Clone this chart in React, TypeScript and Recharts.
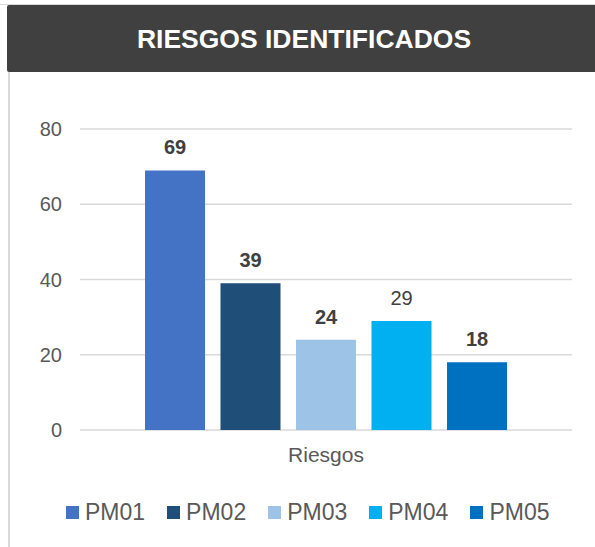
import { BarChart, Bar, XAxis, YAxis, CartesianGrid, Legend } from "recharts";

const categories = ["Riesgos"];
const seriesNames = ["PM01", "PM02", "PM03", "PM04", "PM05"];
const seriesValues = [69, 39, 24, 29, 18];
const seriesColors = ["#4472C4", "#1F4E79", "#9DC3E6", "#00B0F0", "#0070C0"];
const labelBold = [true, true, true, false, true];
const yTicks = [0, 20, 40, 60, 80];

const data = categories.map((name) => {
  const row: Record<string, string | number> = { name };
  seriesNames.forEach((s, i) => {
    row[s] = seriesValues[i];
  });
  return row;
});

const font = "'Liberation Sans', Arial, sans-serif";

function LegendContent() {
  return (
    <div style={{ display: "flex", alignItems: "center", height: 30, fontFamily: font }}>
      {seriesNames.map((s, i) => (
        <div key={s} style={{ display: "flex", alignItems: "center", marginRight: 22 }}>
          <span
            style={{
              width: 13,
              height: 13,
              background: seriesColors[i],
              display: "inline-block",
              marginRight: 6,
            }}
          />
          <span style={{ fontSize: 23, color: "#595959" }}>{s}</span>
        </div>
      ))}
    </div>
  );
}

export default function App() {
  return (
    <div style={{ position: "relative", width: 595, height: 547, background: "#fff", overflow: "hidden" }}>
      <style>{`body{margin:0}`}</style>
      <div style={{ position: "absolute", left: 0, top: 4, width: 595, height: 1, background: "#d9d9d9" }} />
      <div style={{ position: "absolute", left: 8, top: 72, width: 2, height: 475, background: "#d9d9d9" }} />
      <div
        style={{
          position: "absolute",
          left: 7,
          top: 5,
          width: 600,
          height: 67,
          background: "#404040",
          borderRadius: 2,
        }}
      />
      <div
        style={{
          position: "absolute",
          left: 7,
          top: 6,
          width: 594,
          height: 67,
          lineHeight: "67px",
          textAlign: "center",
          color: "#fff",
          fontFamily: font,
          fontWeight: "bold",
          fontSize: 26.5,
        }}
      >
        RIESGOS IDENTIFICADOS
      </div>
      <div style={{ position: "absolute", left: 0, top: 0 }}>
        <BarChart
          width={595}
          height={547}
          data={data}
          margin={{ top: 129, right: 23, left: 0, bottom: 20 }}
          barSize={60}
          barGap={15.5}
        >
          <CartesianGrid vertical={false} stroke="#d9d9d9" strokeWidth={1.5} />
          <XAxis
            dataKey="name"
            axisLine={false}
            tickLine={false}
            height={67}
            tickMargin={11}
            tick={{ fontSize: 21, fill: "#595959", fontFamily: font }}
          />
          <YAxis
            width={80}
            domain={[0, 80]}
            ticks={yTicks}
            axisLine={false}
            tickLine={false}
            tickSize={0}
            tickMargin={18}
            tick={{ fontSize: 20, fill: "#595959", fontFamily: font }}
          />
          <Legend
            verticalAlign="bottom"
            height={30}
            content={() => <LegendContent />}
            wrapperStyle={{ left: 66, width: 529 }}
          />
          {seriesNames.map((s, i) => (
            <Bar
              key={s}
              dataKey={s}
              fill={seriesColors[i]}
              isAnimationActive={false}
              label={(props: any) => (
                <text
                  x={props.x + props.width / 2}
                  y={props.y - 16}
                  textAnchor="middle"
                  fontSize={20}
                  fontFamily={font}
                  fontWeight={labelBold[i] ? "bold" : "normal"}
                  fill="#404040"
                >
                  {props.value}
                </text>
              )}
            />
          ))}
        </BarChart>
      </div>
    </div>
  );
}
